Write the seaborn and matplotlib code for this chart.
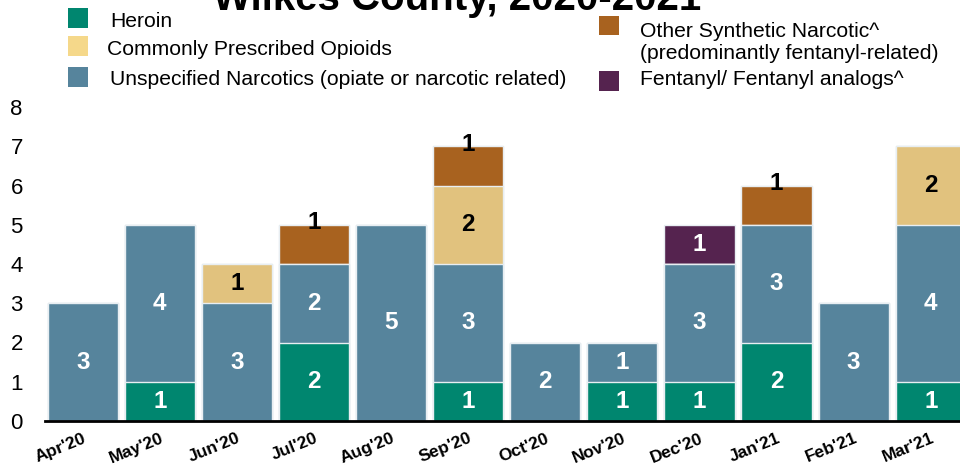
import numpy as np
import pandas as pd
import seaborn as sns
from matplotlib import pyplot as plt
from matplotlib.patches import Rectangle

# データ
months = ["Apr'20", "May'20", "Jun'20", "Jul'20", "Aug'20", "Sep'20",
          "Oct'20", "Nov'20", "Dec'20", "Jan'21", "Feb'21", "Mar'21"]
heroin = [0, 1, 0, 2, 0, 1, 0, 1, 1, 2, 0, 1]
unspecified = [3, 4, 3, 2, 5, 3, 2, 1, 3, 3, 3, 4]
prescribed = [0, 0, 1, 0, 0, 2, 0, 0, 0, 0, 0, 2]
other_synth = [0, 0, 0, 1, 0, 1, 0, 0, 0, 1, 0, 0]
fentanyl = [0, 0, 0, 0, 0, 0, 0, 0, 1, 0, 0, 0]

# 積み上げ順: 下から
layers = [
    ("Heroin", heroin, "#00866F", "white"),
    ("Unspecified Narcotics (opiate or narcotic related)", unspecified, "#56849C", "white"),
    ("Commonly Prescribed Opioids", prescribed, "#E1C27E", "black"),
    ("Other Synthetic Narcotic^", other_synth, "#A8621F", "black"),
    ("Fentanyl/ Fentanyl analogs^", fentanyl, "#55234F", "white"),
]

df = pd.DataFrame({"month": months})
for name, vals, _, _ in layers:
    df[name] = vals
names = [l[0] for l in layers]
cum = df[names].cumsum(axis=1)

sns.set_theme(style="white")
plt.rcParams["font.family"] = ["Liberation Sans", "DejaVu Sans"]

fig = plt.figure(figsize=(9.6, 4.68), dpi=100)
ax = fig.add_axes([45 / 960, 47 / 468, 915 / 960, 314 / 468])

# 累積値を上の層から重ねて描画
for name, vals, color, _ in reversed(layers):
    sns.barplot(x=df["month"], y=cum[name], color=color, saturation=1,
                width=0.91, edgecolor="#E8EEF2", linewidth=1, ax=ax, order=months)

# 数値ラベル
for i, m in enumerate(months):
    bottom = 0
    for name, vals, color, tcolor in layers:
        v = vals[i]
        if v > 0:
            if name.startswith("Other"):
                y = bottom + v + 0.05
            else:
                y = bottom + v / 2
            ax.text(i, y, str(v), ha="center", va="center", color=tcolor,
                    fontsize=17.5, fontweight="bold")
        bottom += v

ax.set_xlim(-0.49, 11.38)
ax.set_ylim(0, 8)
ax.set_yticks(range(0, 9))
ax.set_xlabel("")
ax.set_ylabel("")
for s in ["top", "right", "left"]:
    ax.spines[s].set_visible(False)
ax.spines["bottom"].set_color("black")
ax.spines["bottom"].set_linewidth(2)
ax.tick_params(axis="y", length=0, pad=16, labelsize=16, labelcolor="black")
ax.tick_params(axis="x", length=0, pad=7, labelsize=12.5, labelcolor="black")
for lab in ax.get_xticklabels():
    lab.set_rotation(22)
    lab.set_ha("right")
    lab.set_rotation_mode("anchor")
    lab.set_fontweight("bold")

# タイトル（上端で切れている）
fig.text(0.476, 1 - 10 / 468, "Wilkes County, 2020-2021", ha="center",
         va="baseline", fontsize=29, fontweight="bold", color="black")

# 凡例（手動配置）: 色見本 (x, 上端y, 下端y), 文字 (x, ベースラインy)
swatches = [
    (68, 8, 28, "#00866F"),
    (68, 36, 56, "#F5D88A"),
    (68, 67, 87, "#56849C"),
    (599, 16, 35, "#A8621F"),
    (599, 71, 91, "#55234F"),
]
legend_texts = [
    (110, 27, "Heroin"),
    (107, 55, "Commonly Prescribed Opioids"),
    (110, 85, "Unspecified Narcotics (opiate or narcotic related)"),
    (640, 37, "Other Synthetic Narcotic^"),
    (640, 59, "(predominantly fentanyl-related)"),
    (640, 85, "Fentanyl/ Fentanyl analogs^"),
]
for sx, top, bot, c in swatches:
    fig.add_artist(Rectangle((sx / 960, 1 - bot / 468), 20 / 960, (bot - top) / 468,
                             transform=fig.transFigure, color=c, lw=0))
for tx, ty, label in legend_texts:
    fig.text(tx / 960, 1 - ty / 468, label, ha="left", va="baseline",
             fontsize=15.2, color="black")

plt.savefig("out.png", dpi=100)
